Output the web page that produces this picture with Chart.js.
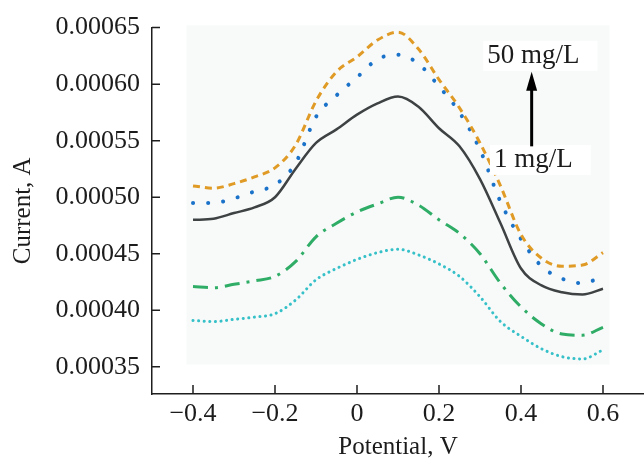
<!DOCTYPE html>
<html>
<head>
<meta charset="utf-8">
<script src="https://cdn.jsdelivr.net/npm/chart.js@4.4.1/dist/chart.umd.min.js"></script>
<style>
  html, body { margin: 0; padding: 0; background: #fff; }
  #wrap { width: 644px; height: 460px; }
</style>
</head>
<body>
<div id="wrap"><canvas id="cv" width="644" height="460"></canvas></div>
<script>
// Potential, V (shared by every curve)
const potential = [-0.4, -0.35, -0.3, -0.25, -0.2, -0.15, -0.1, -0.05, 0, 0.05, 0.1,
                   0.15, 0.2, 0.25, 0.3, 0.35, 0.4, 0.45, 0.5, 0.55, 0.6];

// Current, A, top curve = 50 mg/L, bottom = 1 mg/L
const current50 = [0.000510, 0.000508, 0.000512, 0.000518, 0.000526, 0.000546, 0.000585, 0.000611, 0.000624, 0.000639, 0.000646,
                   0.000631, 0.000604, 0.000579, 0.000548, 0.000510, 0.000467, 0.000446, 0.000439, 0.000440, 0.000451];
const currentB  = [0.000495, 0.000495, 0.000499, 0.000505, 0.000511, 0.000530, 0.000571, 0.000590, 0.000606, 0.000622, 0.000626,
                   0.000618, 0.000598, 0.000575, 0.000542, 0.000496, 0.000463, 0.000439, 0.000428, 0.000424, 0.000430];
const currentC  = [0.000480, 0.000481, 0.000486, 0.000491, 0.000500, 0.000525, 0.000548, 0.000560, 0.000573, 0.000583, 0.000589,
                   0.000580, 0.000561, 0.000545, 0.000516, 0.000477, 0.000437, 0.000422, 0.000416, 0.000414, 0.000419];
const currentD  = [0.000421, 0.000420, 0.000423, 0.000426, 0.000430, 0.000443, 0.000465, 0.000477, 0.000487, 0.000494, 0.000500,
                   0.000493, 0.000480, 0.000468, 0.000450, 0.000424, 0.000403, 0.000388, 0.000379, 0.000378, 0.000385];
const current1  = [0.000391, 0.000390, 0.000392, 0.000394, 0.000397, 0.000409, 0.000427, 0.000437, 0.000445, 0.000451, 0.000454,
                   0.000449, 0.000441, 0.000430, 0.000412, 0.000390, 0.000377, 0.000366, 0.000359, 0.000357, 0.000365];

const xTickValues = [-0.4, -0.2, 0, 0.2, 0.4, 0.6];
const yTickValues = [0.00035, 0.0004, 0.00045, 0.0005, 0.00055, 0.0006, 0.00065];

const topLabel = '50 mg/L';
const bottomLabel = '1 mg/L';

const FONT = '"Liberation Serif", "Times New Roman", serif';
const AXIS = '#1e1e1e';
const TEXT = '#1c1c1c';

function pts(ys) {
  return potential.map((x, i) => ({ x: x, y: ys[i] }));
}

// light panel behind the curves (as in the scanned figure)
const panel = {
  id: 'panel',
  beforeDraw(chart) {
    const { ctx, scales: { x, y } } = chart;
    ctx.save();
    ctx.fillStyle = '#fff';
    ctx.fillRect(0, 0, chart.width, chart.height);
    const l = x.getPixelForValue(-0.416), r = x.getPixelForValue(0.616);
    const t = y.getPixelForValue(0.000652), b = y.getPixelForValue(0.000352);
    ctx.fillStyle = '#f8fafa';
    ctx.fillRect(l, t, r - l, b - t);
    ctx.restore();
  }
};

// short tick marks pointing into the plot
const inwardTicks = {
  id: 'inwardTicks',
  afterDraw(chart) {
    const { ctx, chartArea: a, scales: { x, y } } = chart;
    ctx.save();
    ctx.strokeStyle = AXIS;
    ctx.lineWidth = 1.5;
    ctx.beginPath();
    xTickValues.forEach(v => {
      const px = x.getPixelForValue(v);
      ctx.moveTo(px, a.bottom);
      ctx.lineTo(px, a.bottom - 9);
    });
    yTickValues.forEach(v => {
      const py = y.getPixelForValue(v);
      ctx.moveTo(a.left, py);
      ctx.lineTo(a.left + 8, py);
    });
    ctx.stroke();
    ctx.restore();
  }
};

// "1 mg/L -> 50 mg/L" arrow note
const note = {
  id: 'note',
  afterDatasetsDraw(chart) {
    const { ctx, scales: { x, y } } = chart;
    ctx.save();
    ctx.font = '27px ' + FONT;
    ctx.textAlign = 'center';
    ctx.textBaseline = 'middle';
    const cx = x.getPixelForValue(0.43);
    [[topLabel, 0.000625], [bottomLabel, 0.000533]].forEach(([txt, v]) => {
      const cy = y.getPixelForValue(v);
      const w = ctx.measureText(txt).width;
      ctx.fillStyle = '#fff';
      ctx.fillRect(cx - w / 2 - 4, cy - 15, w + 22, 30);
      ctx.fillStyle = TEXT;
      ctx.fillText(txt, cx, cy);
    });
    const ax = x.getPixelForValue(0.426);
    const tip = y.getPixelForValue(0.000611);
    const base = y.getPixelForValue(0.000545);
    ctx.strokeStyle = '#000';
    ctx.lineWidth = 3;
    ctx.beginPath();
    ctx.moveTo(ax, base);
    ctx.lineTo(ax, tip + 14);
    ctx.stroke();
    ctx.fillStyle = '#000';
    ctx.beginPath();
    ctx.moveTo(ax, tip);
    ctx.lineTo(ax - 5.5, tip + 19);
    ctx.lineTo(ax + 5.5, tip + 19);
    ctx.closePath();
    ctx.fill();
    ctx.restore();
  }
};

function xLabel(v) {
  if (Math.abs(v) < 1e-9) return '0';
  return (v < 0 ? '\u2212' : '') + Math.abs(v).toFixed(1);
}

new Chart(document.getElementById('cv'), {
  type: 'line',
  data: {
    datasets: [
      { label: topLabel, data: pts(current50), borderColor: '#e09b26', borderWidth: 3, borderDash: [7, 5] },
      { label: 'B', data: pts(currentB), borderColor: '#1b72c9', borderWidth: 4, borderDash: [0.1, 15], borderCapStyle: 'round' },
      { label: 'C', data: pts(currentC), borderColor: '#3f4243', borderWidth: 2.5 },
      { label: 'D', data: pts(currentD), borderColor: '#2fad67', borderWidth: 3, borderDash: [15, 7, 3, 7] },
      { label: bottomLabel, data: pts(current1), borderColor: '#36c0c8', borderWidth: 3, borderDash: [0.1, 5.5], borderCapStyle: 'round' }
    ]
  },
  options: {
    responsive: false,
    animation: false,
    elements: { point: { radius: 0 }, line: { cubicInterpolationMode: 'monotone' } },
    layout: { padding: { top: 25, right: 0, bottom: 0, left: 0 } },
    plugins: { legend: { display: false }, tooltip: { enabled: false } },
    scales: {
      x: {
        type: 'linear',
        min: -0.5,
        max: 0.7,
        afterBuildTicks: s => { s.ticks = xTickValues.map(v => ({ value: v })); },
        afterFit: s => { s.height = 66; },
        grid: { display: false, drawTicks: false },
        border: { display: true, color: AXIS, width: 1.5 },
        ticks: { color: TEXT, padding: 5, maxRotation: 0, font: { family: FONT, size: 26 }, callback: xLabel },
        title: { display: true, text: 'Potential, V', color: TEXT, padding: 0, font: { family: FONT, size: 25, lineHeight: 1 } }
      },
      y: {
        type: 'linear',
        min: 0.000326,
        max: 0.00065,
        afterBuildTicks: s => { s.ticks = yTickValues.map(v => ({ value: v })); },
        afterFit: s => { s.width = 152; },
        grid: { display: false, drawTicks: false },
        border: { display: true, color: AXIS, width: 1.5 },
        ticks: { color: TEXT, padding: 12, font: { family: FONT, size: 26 }, callback: v => v.toFixed(5) },
        title: { display: true, text: 'Current, A', color: TEXT, padding: { top: 11, bottom: 0 }, font: { family: FONT, size: 25, lineHeight: 1 } }
      }
    }
  },
  plugins: [panel, inwardTicks, note]
});
</script>
</body>
</html>
